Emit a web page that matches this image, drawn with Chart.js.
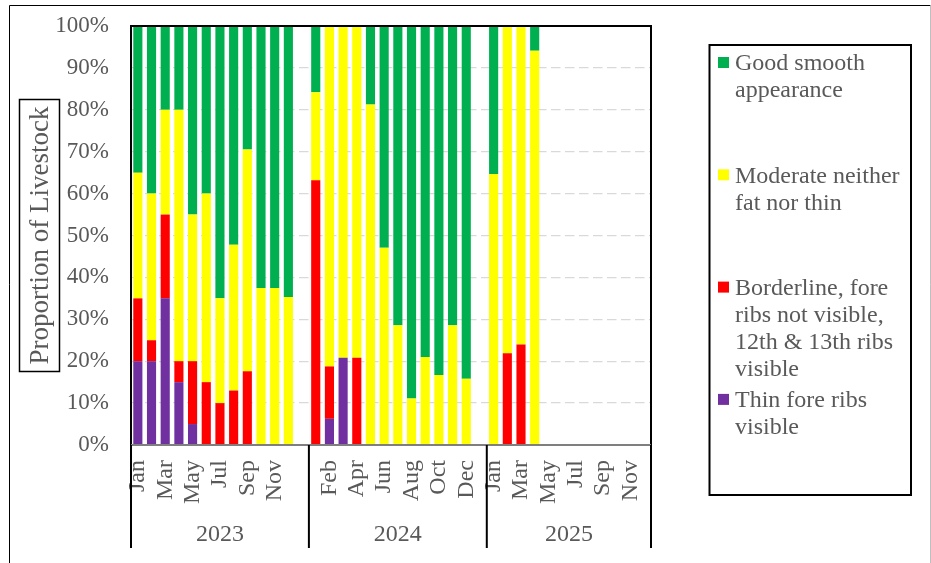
<!DOCTYPE html>
<html>
<head>
<meta charset="utf-8">
<script src="https://cdn.jsdelivr.net/npm/chart.js@4.4.1/dist/chart.umd.min.js"></script>
<style>
  html, body { margin: 0; padding: 0; background: #fff; }
  #wrap { width: 931px; height: 563px; }
</style>
</head>
<body>
<div id="wrap"><canvas id="bcsChart" width="931" height="563"></canvas></div>
<script>
// categories: each year is a group, with an empty slot after 2023 and 2024
const months = [
  "Jan", "Feb", "Mar", "Apr", "May", "Jun", "Jul", "Aug", "Sep", "Oct", "Nov", "Dec", "",
  "Jan", "Feb", "Mar", "Apr", "May", "Jun", "Jul", "Aug", "Sep", "Oct", "Nov", "Dec", "",
  "Jan", "Feb", "Mar", "Apr", "May", "Jun", "Jul", "Aug", "Sep", "Oct", "Nov", "Dec"
];
const years = ["2023", "2024", "2025"];
const yearSizes = [13, 13, 12];   // number of category slots per year group

// series, in % of livestock (null = no record)
const thinRibs = [
  20, 20, 35, 15, 5, 0, 0, 0, 0, 0, 0, 0, null,
  0, 6.25, 20.8, 0, 0, 0, 0, 0, 0, 0, 0, 0, null,
  0, 0, 0, 0, null, null, null, null, null, null, null, null
];
const borderline = [
  15, 5, 20, 5, 15, 15, 10, 13, 17.6, 0, 0, 0, null,
  63.2, 12.5, 0, 20.8, 0, 0, 0, 0, 0, 0, 0, 0, null,
  0, 21.9, 24, 0, null, null, null, null, null, null, null, null
];
const moderate = [
  30, 35, 25, 60, 35, 45, 25, 34.8, 52.9, 37.5, 37.5, 35.3, null,
  21, 81.25, 79.2, 79.2, 81.25, 47.1, 28.6, 11.1, 21, 16.7, 28.6, 15.8, null,
  64.7, 78.1, 76, 94.1, null, null, null, null, null, null, null, null
];
const goodSmooth = [
  35, 40, 20, 20, 45, 40, 65, 52.2, 29.5, 62.5, 62.5, 64.7, null,
  15.8, 0, 0, 0, 18.75, 52.9, 71.4, 88.9, 79, 83.3, 71.4, 84.2, null,
  35.3, 0, 0, 5.9, null, null, null, null, null, null, null, null
];

const seriesNames = [
  "Thin fore ribs visible",
  "Borderline, fore ribs not visible, 12th & 13th ribs visible",
  "Moderate neither fat nor thin",
  "Good smooth appearance"
];
const seriesColors = ["#7030A0", "#FF0000", "#FFFF00", "#00B050"];
const yTitle = "Proportion of Livestock";

const SERIF = "'Liberation Serif', 'Times New Roman', serif";
const GREY = "#595959";

function wrapWords(ctx, text, maxWidth) {
  const words = text.split(" ");
  const lines = [];
  let line = "";
  words.forEach(w => {
    const test = line ? line + " " + w : w;
    if (line && ctx.measureText(test).width > maxWidth) {
      lines.push(line);
      line = w;
    } else {
      line = test;
    }
  });
  if (line) lines.push(line);
  return lines;
}

// frame, year groups, axis title and the boxed legend
const decorations = {
  id: 'decorations',
  afterDraw(chart) {
    const ctx = chart.ctx;
    const area = chart.chartArea;
    const x = chart.scales.x;
    ctx.save();

    // outer chart border
    ctx.lineWidth = 1;
    ctx.strokeStyle = "#000";
    ctx.beginPath();
    ctx.moveTo(9.5, 563);
    ctx.lineTo(9.5, 5.5);
    ctx.lineTo(930.5, 5.5);
    ctx.stroke();
    ctx.strokeStyle = "#bfbfbf";
    ctx.beginPath();
    ctx.moveTo(930.5, 5.5);
    ctx.lineTo(930.5, 563);
    ctx.stroke();

    // plot frame
    ctx.lineWidth = 2;
    ctx.strokeStyle = "#000";
    ctx.beginPath();
    ctx.moveTo(area.left, area.bottom);
    ctx.lineTo(area.left, area.top);
    ctx.lineTo(area.right, area.top);
    ctx.lineTo(area.right, area.bottom);
    ctx.stroke();
    ctx.strokeStyle = "#7f7f7f";
    ctx.beginPath();
    ctx.moveTo(area.left, area.bottom);
    ctx.lineTo(area.right, area.bottom);
    ctx.stroke();

    // year group dividers and labels
    const slot = (x.right - x.left) / months.length;
    ctx.strokeStyle = "#000";
    ctx.fillStyle = GREY;
    ctx.font = "24px " + SERIF;
    ctx.textAlign = "center";
    ctx.textBaseline = "middle";
    let start = 0;
    years.forEach((yr, i) => {
      const x0 = x.getPixelForValue(start) - slot / 2;
      const x1 = x.getPixelForValue(start + yearSizes[i] - 1) + slot / 2;
      ctx.beginPath();
      ctx.moveTo(x0, area.bottom);
      ctx.lineTo(x0, 548);
      ctx.stroke();
      if (i === years.length - 1) {
        ctx.beginPath();
        ctx.moveTo(x1, area.bottom);
        ctx.lineTo(x1, 548);
        ctx.stroke();
      }
      ctx.fillText(yr, (x0 + x1) / 2, 535);
      start += yearSizes[i];
    });

    // y axis title in a box
    ctx.lineWidth = 1.5;
    ctx.strokeRect(19.5, 99.5, 40, 272);
    ctx.save();
    ctx.translate(40, 235.5);
    ctx.rotate(-Math.PI / 2);
    ctx.font = "27px " + SERIF;
    ctx.fillText(yTitle, 0, 1);
    ctx.restore();

    // legend
    ctx.lineWidth = 2;
    ctx.strokeRect(709.5, 45, 201.5, 450);
    ctx.font = "24px " + SERIF;
    ctx.textAlign = "left";
    const ds = chart.data.datasets;
    for (let k = ds.length - 1, n = 0; k >= 0; k--, n++) {
      const y0 = 63 + n * 112.3;
      ctx.fillStyle = ds[k].backgroundColor;
      ctx.fillRect(718, y0 - 6, 11, 11);
      ctx.fillStyle = GREY;
      wrapWords(ctx, ds[k].label, 172).forEach((ln, j) => {
        ctx.fillText(ln, 735, y0 + 1 + j * 27);
      });
    }
    ctx.restore();
  }
};

const datasets = [thinRibs, borderline, moderate, goodSmooth].map((vals, i) => ({
  label: seriesNames[i],
  data: vals,
  backgroundColor: seriesColors[i],
  borderWidth: 0,
  barPercentage: 0.667,
  categoryPercentage: 1.0
}));

new Chart("bcsChart", {
  type: "bar",
  data: { labels: months, datasets: datasets },
  options: {
    responsive: false,
    animation: false,
    layout: { padding: { left: 0, top: 26, right: 280, bottom: 0 } },
    plugins: {
      legend: { display: false },
      tooltip: { enabled: false }
    },
    scales: {
      x: {
        stacked: true,
        grid: { display: false, drawTicks: false },
        border: { display: false },
        afterFit: function(scale) {
          scale.height = 118;
          scale.paddingLeft = 0;
          scale.paddingRight = 0;
          scale.paddingTop = 0;
          scale.paddingBottom = 0;
        },
        ticks: {
          autoSkip: false,
          minRotation: 90,
          maxRotation: 90,
          padding: 15,
          color: GREY,
          font: { family: SERIF, size: 24 },
          callback: function(value, index) {
            return index % 2 === 0 ? months[index] : "";
          }
        }
      },
      y: {
        stacked: true,
        min: 0,
        max: 100,
        afterFit: function(scale) {
          scale.width = 131;
          scale.paddingTop = 0;
          scale.paddingBottom = 0;
        },
        grid: {
          drawTicks: false,
          lineWidth: 1.3,
          color: function(c) {
            return (c.tick && (c.tick.value === 0 || c.tick.value === 100)) ? "rgba(0,0,0,0)" : "#d9d9d9";
          }
        },
        border: { display: false, dash: [9.5, 4.5] },
        ticks: {
          stepSize: 10,
          padding: 22,
          color: GREY,
          font: { family: SERIF, size: 23 },
          callback: function(v) { return v + "%"; }
        }
      }
    }
  },
  plugins: [decorations]
});
</script>
</body>
</html>
